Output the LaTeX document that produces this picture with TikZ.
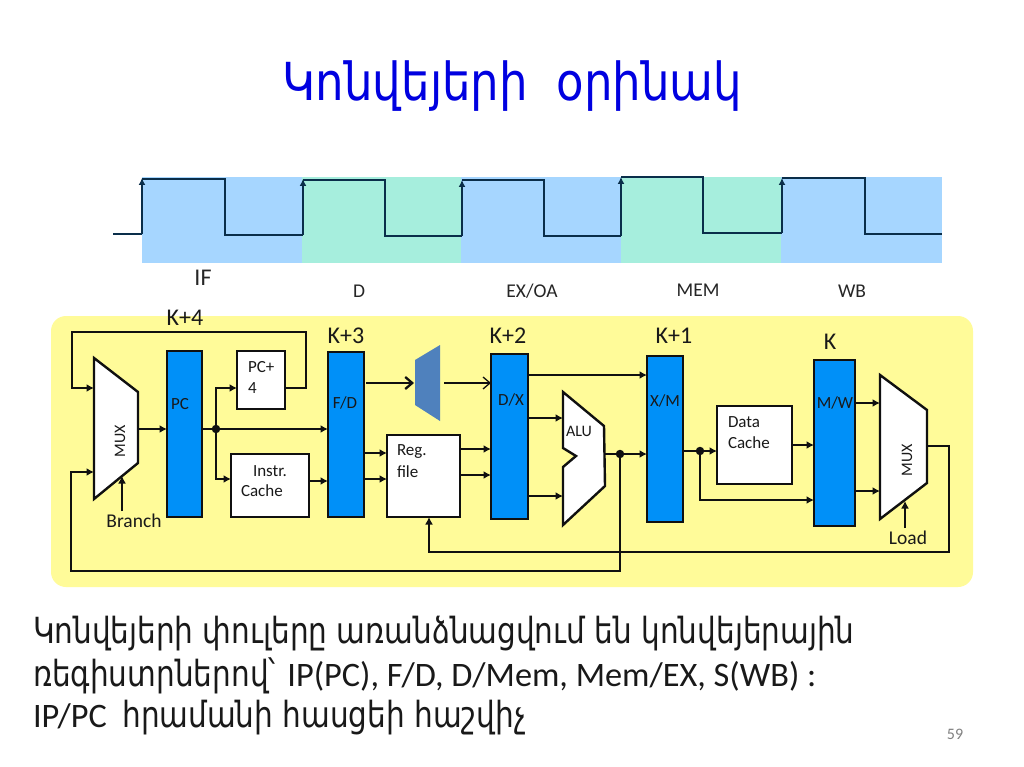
\documentclass[tikz,border=0pt]{standalone}
\usepackage{fontspec}
\setmainfont{Carlito}
\newfontfamily\armtitle[FakeStretch=0.86]{DejaVu Sans}
\newfontfamily\armbody[FakeStretch=0.82]{DejaVu Sans}
\usetikzlibrary{arrows.meta,calc}
\definecolor{panel}{HTML}{FFFB99}
\definecolor{pipeblue}{HTML}{0090F8}
\definecolor{bandblue}{HTML}{A6D6FF}
\definecolor{bandgreen}{HTML}{A6EEDD}
\definecolor{titleblue}{HTML}{0000E0}
\definecolor{wirec}{HTML}{101010}
\definecolor{wavec}{HTML}{0A2E4A}
\definecolor{trap}{HTML}{4F81BD}
\tikzset{
 wire/.style={draw=wirec,line width=2.3pt,line join=miter},
 tipped/.style={wire,-{Latex[length=7.5pt,width=8pt]}},
 opentip/.style={wire,-{Straight Barb[length=7pt,width=12pt]}},
 pipebox/.style={draw=wirec,line width=2.6pt,fill=pipeblue,inner sep=0pt,outer sep=0pt},
 whitebox/.style={draw=wirec,line width=2.6pt,fill=white,inner sep=0pt,outer sep=0pt},
 muxshape/.style={draw=wirec,line width=2.4pt,fill=white,line join=miter},
 lbl/.style={inner sep=0pt,outer sep=0pt,text=black!90,font=\fontsize{17}{17}\selectfont},
 klbl/.style={inner sep=0pt,outer sep=0pt,text=black!90,font=\fontsize{24}{24}\selectfont},
 stage/.style={inner sep=0pt,outer sep=0pt,text=black!85,font=\fontsize{19.5}{19.5}\selectfont},
 dotj/.style={circle,fill=wirec,inner sep=0pt,minimum size=8.5pt,outer sep=0pt},
 wave/.style={draw=wavec,line width=2.3pt,line join=miter},
 rise/.style={wave,-{Latex[length=7pt,width=7pt]}},
 bodyline/.style={anchor=base west,inner sep=0pt,outer sep=0pt,text=black!90,font=\fontsize{34.3}{34.3}\selectfont},
}
\newcommand{\armb}[1]{{\fontsize{36}{36}\selectfont\armbody #1}}
\begin{document}
\begin{tikzpicture}[x=1pt,y=-1pt]
\useasboundingbox (0,0) rectangle (1024,767);
\fill[white] (0,0) rectangle (1024,767);
% title
\node[anchor=base,inner sep=0pt,text=titleblue,font=\fontsize{52.4}{52.4}\selectfont\armtitle] (title) at (512.5,101) {Կոնվեյերի\ \ օրինակ};
% bands
\fill[bandblue] (142,177) rectangle (302,263);
\fill[bandgreen] (302,177) rectangle (461,263);
\fill[bandblue] (461,177) rectangle (621,263);
\fill[bandgreen] (621,177) rectangle (781,263);
\fill[bandblue] (781,177) rectangle (942,263);
% waveform
\draw[wave] (113,234) -- (142,234);
\draw[rise] (142,234) -- (142,178);
\draw[wave] (142,179) -- (225,179) -- (225,235) -- (303,235);
\draw[rise] (303,235) -- (303,179);
\draw[wave] (303,180) -- (385,180) -- (385,236) -- (462,236);
\draw[rise] (462,236) -- (462,180);
\draw[wave] (462,180) -- (544,180) -- (544,236) -- (621,236);
\draw[rise] (621,236) -- (621,177);
\draw[wave] (621,177) -- (703,177) -- (703,233) -- (782,233);
\draw[rise] (782,233) -- (782,178);
\draw[wave] (782,178) -- (865,178) -- (865,234) -- (942,234);
% stage labels
\node[stage,font=\fontsize{24}{24}\selectfont] (lif) at (203,278) {IF};
\node[stage] (ld) at (359,291) {D};
\node[stage] (lex) at (532,291) {EX/OA};
\node[stage] (lmem) at (698,290) {MEM};
\node[stage] (lwb) at (852,291) {WB};
% panel
\fill[panel,rounded corners=15pt] (51,316) rectangle (973,587);
% stage K labels
\node[klbl] (k4) at (185,318) {K+4};
\node[klbl] (k3) at (346,336) {K+3};
\node[klbl] (k2) at (508,336) {K+2};
\node[klbl] (k1) at (674,336) {K+1};
\node[klbl] (k0) at (830,342) {K};
% pipeline registers
\node[pipebox,minimum width=35pt,minimum height=166pt] (pc) at (184.5,434) {};
\node[pipebox,minimum width=36pt,minimum height=165pt] (fd) at (346,434.5) {};
\node[pipebox,minimum width=37pt,minimum height=165pt] (dx) at (509.5,436.5) {};
\node[pipebox,minimum width=36pt,minimum height=166pt] (xm) at (665,439) {};
\node[pipebox,minimum width=41pt,minimum height=166pt] (mw) at (834.5,443) {};
% white boxes
\node[whitebox,minimum width=48pt,minimum height=58pt] (pcp) at (261,380) {};
\node[whitebox,minimum width=78pt,minimum height=63pt] (ic) at (270,485.5) {};
\node[whitebox,minimum width=73pt,minimum height=82pt] (rf) at (423.5,476) {};
\node[whitebox,minimum width=75pt,minimum height=78pt] (dc) at (754.5,445) {};
% mux 1
\coordinate (mAa) at (94,358);
\coordinate (mAb) at (138,392);
\coordinate (mAc) at (138,463);
\coordinate (mAd) at (94,499);
\draw[muxshape] (mAa) -- (mAb) -- (mAc) -- (mAd) -- cycle;
\coordinate (mAin1) at (94,388);
\coordinate (mAin2) at (94,472);
\coordinate (mAout) at (138,429);
\coordinate (mAsel) at (122,476);
% mux 2
\coordinate (mBa) at (880,375);
\coordinate (mBb) at (927,410);
\coordinate (mBc) at (927,483);
\coordinate (mBd) at (880,519);
\draw[muxshape] (mBa) -- (mBb) -- (mBc) -- (mBd) -- cycle;
\coordinate (mBin1) at (880,403);
\coordinate (mBin2) at (880,491);
\coordinate (mBout) at (927,446);
\coordinate (mBsel) at (905,501);
% ALU
\coordinate (aA) at (563,392);
\coordinate (aB) at (604,426);
\coordinate (aC) at (605,486);
\coordinate (aD) at (563,525);
\coordinate (aE) at (563,467);
\coordinate (aF) at (576,456);
\coordinate (aG) at (563,448);
\draw[muxshape] (aA) -- (aB) -- (aC) -- (aD) -- (aE) -- (aF) -- (aG) -- cycle;
\coordinate (aIn1) at (563,418);
\coordinate (aIn2) at (563,496);
\coordinate (aOut) at (605,454);
% small trapezoid
\coordinate (tA) at (415,360);
\coordinate (tB) at (440,345);
\coordinate (tC) at (440,421);
\coordinate (tD) at (415,405);
\fill[trap] (tA) -- (tB) -- (tC) -- (tD) -- cycle;
\coordinate (tIn) at (414,383);
\coordinate (tOut) at (444,383);
% junctions
\node[dotj] (jA) at (216,429) {};
\node[dotj] (jB) at (620,454) {};
\node[dotj] (jC) at (700,451) {};
% named free ends
\node[lbl,font=\fontsize{19.5}{19.5}\selectfont] (branch) at (134,521) {Branch};
\node[lbl,font=\fontsize{19.5}{19.5}\selectfont] (load) at (908,538) {Load};
\coordinate (brS) at (122,511);
\coordinate (ldS) at (905,528);
% connectors
\draw[tipped] (pcp.east |- 0,388) -- (306,388) -- (306,332) -- (72,332) -- (72,388) -- (mAin1);
\draw[tipped] (mAout) -- (pc.west |- mAout);
\draw[tipped] (pc.east |- jA) -- (fd.west |- jA);
\draw[tipped] (jA) |- (pcp.west |- 0,388);
\draw[tipped] (jA) |- (ic.west |- 0,479);
\draw[tipped] (ic.east |- 0,481) -- (fd.west |- 0,481);
\draw[tipped] (fd.east |- 0,453) -- (rf.west |- 0,453);
\draw[tipped] (fd.east |- 0,479) -- (rf.west |- 0,479);
\draw[opentip] (fd.east |- tIn) ++(2,0) -- (tIn);
\draw[opentip,line width=1.3pt] (tOut) -- (dx.west |- tOut);
\draw[tipped] (rf.east |- 0,449) -- (dx.west |- 0,449);
\draw[tipped] (rf.east |- 0,475) -- (dx.west |- 0,475);
\draw[tipped] (dx.east |- 0,375) -- (xm.west |- 0,375);
\draw[tipped] (dx.east |- aIn1) -- (aIn1);
\draw[tipped] (dx.east |- aIn2) -- (aIn2);
\draw[tipped] (aOut) -- (xm.west |- aOut);
\draw[tipped] (jB) -- (620,571) -- (71,571) -- (71,472) -- (mAin2);
\draw[tipped] (xm.east |- jC) -- (dc.west |- jC);
\draw[tipped] (jC) |- (mw.west |- 0,500);
\draw[tipped] (dc.east |- 0,445) -- (mw.west |- 0,445);
\draw[tipped] (mw.east |- mBin1) -- (mBin1);
\draw[tipped] (mw.east |- mBin2) -- (mBin2);
\draw[tipped] (mBout) -- (949,446) -- (949,552) -- (429,552) -- (rf.south -| 429,0);
\draw[tipped] (brS) -- (mAsel);
\draw[tipped] (ldS) -- (mBsel);
% box labels
\node[lbl] (tpc) at (180,404) {PC};
\node[lbl] (tfd) at (345,403) {F/D};
\node[lbl] (tdx) at (511,400) {D/X};
\node[lbl] (txm) at (665,401) {X/M};
\node[lbl] (tmw) at (835,403) {M/W};
\node[lbl,font=\fontsize{16}{16}\selectfont] (talu) at (579,431) {ALU};
\node[lbl,anchor=west] (tp1) at (248,367) {PC+};
\node[lbl,anchor=west] (tp2) at (248,388) {4};
\node[lbl,anchor=west] (ti1) at (253,471) {Instr.};
\node[lbl,anchor=west] (ti2) at (241,491) {Cache};
\node[lbl,anchor=west] (tr1) at (397,452) {Reg.};
\node[lbl,anchor=west] (tr2) at (397,472) {file};
\node[lbl,anchor=west] (td1) at (728,422) {Data};
\node[lbl,anchor=west] (td2) at (728,443) {Cache};
\node[lbl,rotate=90,font=\fontsize{16}{16}\selectfont] (tm1) at (120,441) {MUX};
\node[lbl,rotate=90,font=\fontsize{16}{16}\selectfont] (tm2) at (907,460) {MUX};
% body text
\node[bodyline] (b1) at (33,643) {\armb{Կոնվեյերի փուլերը առանձնացվում են կոնվեյերային}};
\node[bodyline] (b2) at (33,686) {\armb{ռեգիստրներով՝}\hspace{4pt} IP(PC), F/D, D/Mem, Mem/EX, S(WB) :};
\node[bodyline] (b3) at (33,727) {IP/PC\ \ \armb{հրամանի հասցեի հաշվիչ}};
\node[inner sep=0pt,text=black!50,font=\fontsize{16}{16}\selectfont] (num) at (955,734) {59};
\end{tikzpicture}
\end{document}
